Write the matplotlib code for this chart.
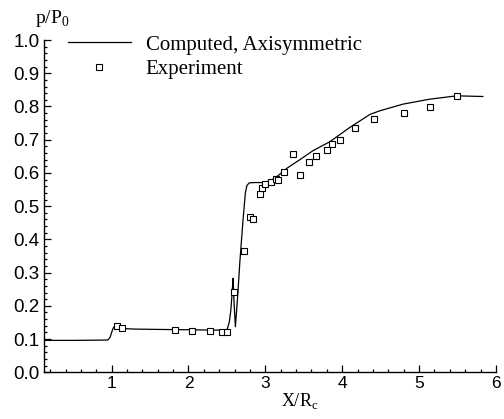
import matplotlib
matplotlib.use("Agg")
import matplotlib.pyplot as plt
from matplotlib.ticker import MultipleLocator, FormatStrFormatter

# Computed, axisymmetric (line)
comp_x = [0.12, 0.50, 0.95, 0.98, 1.00, 1.02, 1.04, 1.07, 1.10, 1.30, 1.60, 2.00, 2.30, 2.45,
          2.50, 2.53, 2.55, 2.565, 2.575, 2.58, 2.595, 2.61, 2.64, 2.67, 2.71, 2.74, 2.76,
          2.79, 2.85, 2.95, 3.00, 3.08, 3.15, 3.23, 3.28, 3.45, 3.62, 3.84, 4.10, 4.36,
          4.49, 4.79, 5.14, 5.49, 5.83]
comp_y = [0.096, 0.096, 0.097, 0.105, 0.120, 0.133, 0.139, 0.136, 0.132, 0.130, 0.129, 0.128, 0.127, 0.127,
          0.127, 0.150, 0.185, 0.230, 0.265, 0.283, 0.200, 0.137, 0.230, 0.338, 0.460, 0.540, 0.562,
          0.570, 0.571, 0.571, 0.572, 0.578, 0.589, 0.604, 0.614, 0.640, 0.667, 0.694, 0.737, 0.776,
          0.787, 0.807, 0.822, 0.832, 0.830]

# Experiment (squares)
exp_x = [1.065, 1.14, 1.83, 2.05, 2.28, 2.43, 2.50, 2.59, 2.72, 2.80, 2.84, 2.93, 2.95, 3.00,
         3.07, 3.14, 3.17, 3.24, 3.36, 3.45, 3.57, 3.66, 3.80, 3.87, 3.97, 4.17, 4.41, 4.81,
         5.14, 5.49]
exp_y = [0.139, 0.132, 0.127, 0.125, 0.125, 0.122, 0.122, 0.241, 0.366, 0.466, 0.460, 0.537, 0.555, 0.568,
         0.574, 0.583, 0.579, 0.603, 0.656, 0.594, 0.633, 0.650, 0.668, 0.686, 0.699, 0.734, 0.762, 0.781,
         0.798, 0.832]

xticks = [1, 2, 3, 4, 5, 6]
yticks = [0.0, 0.1, 0.2, 0.3, 0.4, 0.5, 0.6, 0.7, 0.8, 0.9, 1.0]

fig = plt.figure(figsize=(5.04, 4.19), dpi=100)
ax = fig.add_axes([0.0873, 0.1115, 0.8967, 0.793])

ax.plot(comp_x, comp_y, color="black", lw=0.9, label="Computed, Axisymmetric")
ax.plot(exp_x, exp_y, linestyle="none", marker="s", markersize=4.3, markerfacecolor="white",
        markeredgecolor="black", markeredgewidth=0.8, label="Experiment")

ax.set_xlim(0.12, 6.0)
ax.set_ylim(0.0, 1.0)
ax.set_xticks(xticks)
ax.set_yticks(yticks)
ax.xaxis.set_minor_locator(MultipleLocator(0.2))
ax.yaxis.set_minor_locator(MultipleLocator(0.02))
ax.yaxis.set_major_formatter(FormatStrFormatter("%.1f"))

for s in ["top", "right"]:
    ax.spines[s].set_visible(False)
for s in ["left", "bottom"]:
    ax.spines[s].set_linewidth(1.0)

ax.tick_params(which="both", direction="in", width=0.9)
ax.tick_params(which="major", length=4.8)
ax.tick_params(which="minor", length=2.4)
for lab in ax.get_yticklabels():
    lab.set_fontfamily("Liberation Sans")
    lab.set_fontsize(13.5)
for lab in ax.get_xticklabels():
    lab.set_fontfamily("Liberation Sans")
    lab.set_fontsize(12.5)
ax.tick_params(axis="y", pad=3)
ax.tick_params(axis="x", pad=3)

fig.text(0.595, 0.03, r"X/R$_\mathregular{c}$", fontfamily="Liberation Serif", fontsize=13,
         ha="center", va="baseline")
fig.text(0.070, 0.945, r"p/P$_\mathregular{0}$", fontfamily="Liberation Serif", fontsize=14,
         ha="left", va="baseline")

leg = ax.legend(loc="upper left", bbox_to_anchor=(0.035, 1.04), frameon=False,
                prop={"family": "Liberation Serif", "size": 15}, handlelength=3.0,
                handletextpad=0.72, labelspacing=0.25, borderaxespad=0.0)

fig.savefig("out.png", dpi=100)
